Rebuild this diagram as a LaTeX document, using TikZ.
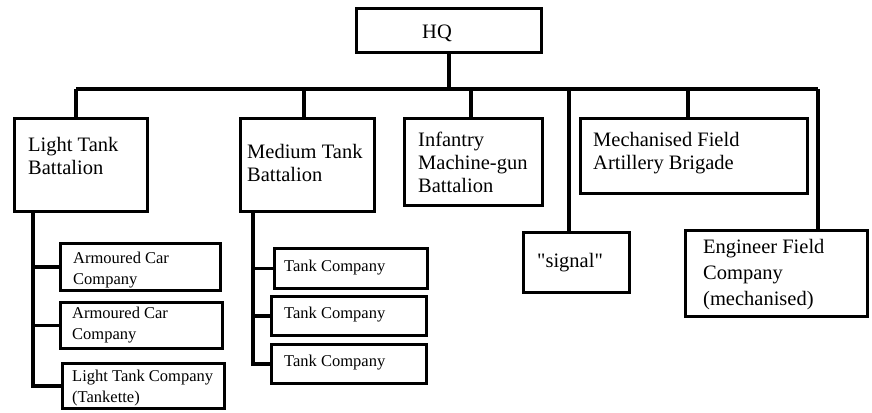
\documentclass[tikz,border=0pt]{standalone}
\usepackage{fontspec}
\setmainfont{Liberation Serif}[Ligatures=ResetAll]
% straight double quote taken straight from the font's glyph table
\newcommand{\sq}{\XeTeXglyph\XeTeXglyphindex "quotedbl"\relax}
\begin{document}
\begin{tikzpicture}[x=1pt,y=-1pt,
  box/.style={draw,line width=3pt,rectangle,anchor=north west,inner sep=0pt,outer sep=0pt},
  link/.style={line width=3.4pt},
  bigtxt/.style={anchor=north west,inner sep=0pt,align=left,font=\fontsize{20.5}{23}\selectfont},
  smalltxt/.style={anchor=north west,inner sep=0pt,align=left,font=\fontsize{16.5}{21}\selectfont}]
\useasboundingbox (0,0) rectangle (872,412);

% headquarters and first-level units
\node[box,minimum width=185pt,minimum height=44pt] (hq) at (356.5,8.5) {};
\node[box,minimum width=133pt,minimum height=93pt] (lt) at (14.5,118.5) {};
\node[box,minimum width=134pt,minimum height=93pt] (mt) at (240.5,118.5) {};
\node[box,minimum width=138pt,minimum height=87pt] (inf) at (404.5,118.5) {};
\node[box,minimum width=227pt,minimum height=75pt] (mech) at (580.5,118.5) {};
\node[box,minimum width=106pt,minimum height=60pt] (sig) at (523.5,232.5) {};
\node[box,minimum width=182pt,minimum height=86pt] (eng) at (685.5,230.5) {};

% companies
\node[box,minimum width=160pt,minimum height=47pt] (ac1) at (60.5,243.5) {};
\node[box,minimum width=162pt,minimum height=46pt] (ac2) at (60.5,302.5) {};
\node[box,minimum width=162pt,minimum height=45pt] (ltc) at (62.5,363.5) {};
\node[box,minimum width=153pt,minimum height=40pt] (tc1) at (274.5,248.5) {};
\node[box,minimum width=155pt,minimum height=39pt] (tc2) at (271.5,296.5) {};
\node[box,minimum width=155pt,minimum height=39pt] (tc3) at (271.5,344.5) {};

% labels
\node[bigtxt] (hqt) at (422,25) {HQ};
\node[bigtxt] (ltt) at (28,137) {Light Tank\\Battalion};
\node[bigtxt] (mtt) at (247,144) {Medium Tank\\Battalion};
\node[bigtxt] (inft) at (418,132) {Infantry\\Machine-gun\\Battalion};
\node[bigtxt] (mecht) at (593,132) {Mechanised Field\\Artillery Brigade};
\node[bigtxt] (sigt) at (537,253) {\sq signal\sq};
\node[bigtxt,font=\fontsize{20.5}{26}\selectfont] (engt) at (703,239) {Engineer Field\\Company\\(mechanised)};
\node[smalltxt] (ac1t) at (73,252) {Armoured Car\\Company};
\node[smalltxt] (ac2t) at (72,307) {Armoured Car\\Company};
\node[smalltxt] (ltct) at (72,370) {Light Tank Company\\(Tankette)};
\node[smalltxt] (tc1t) at (284,260) {Tank Company};
\node[smalltxt] (tc2t) at (284,307) {Tank Company};
\node[smalltxt] (tc3t) at (284,355) {Tank Company};

% command bus
\coordinate (busL) at (76,89);
\coordinate (busR) at (818,89);
\coordinate (dm) at (304,89);
\coordinate (di) at (471,89);
\coordinate (ds) at (569,89);
\coordinate (dk) at (688,89);
\draw[link] (hq.south) -- (hq.south |- busL);
\draw[link] (busL) -- (busR);
\draw[link] (busL) -- (lt.north -| busL);
\draw[link] (dm) -- (mt.north -| dm);
\draw[link] (di) -- (inf.north -| di);
\draw[link] (ds) -- (sig.north -| ds);
\draw[link] (dk) -- (mech.north -| dk);
\draw[link] (busR) -- (eng.north -| busR);

% light tank battalion companies
\coordinate (lv) at (33,0);
\draw[link] (lt.south -| lv) -- (ltc.west -| lv) -- (ltc.west);
\draw[link] (ac1.west -| lv) -- (ac1.west);
\draw[link] (ac2.west -| lv) -- (ac2.west);

% medium tank battalion companies
\coordinate (mv) at (253,0);
\draw[link] (mt.south -| mv) -- (tc3.west -| mv) -- (tc3.west);
\draw[link] (tc1.west -| mv) -- (tc1.west);
\draw[link] (tc2.west -| mv) -- (tc2.west);
\end{tikzpicture}
\end{document}
